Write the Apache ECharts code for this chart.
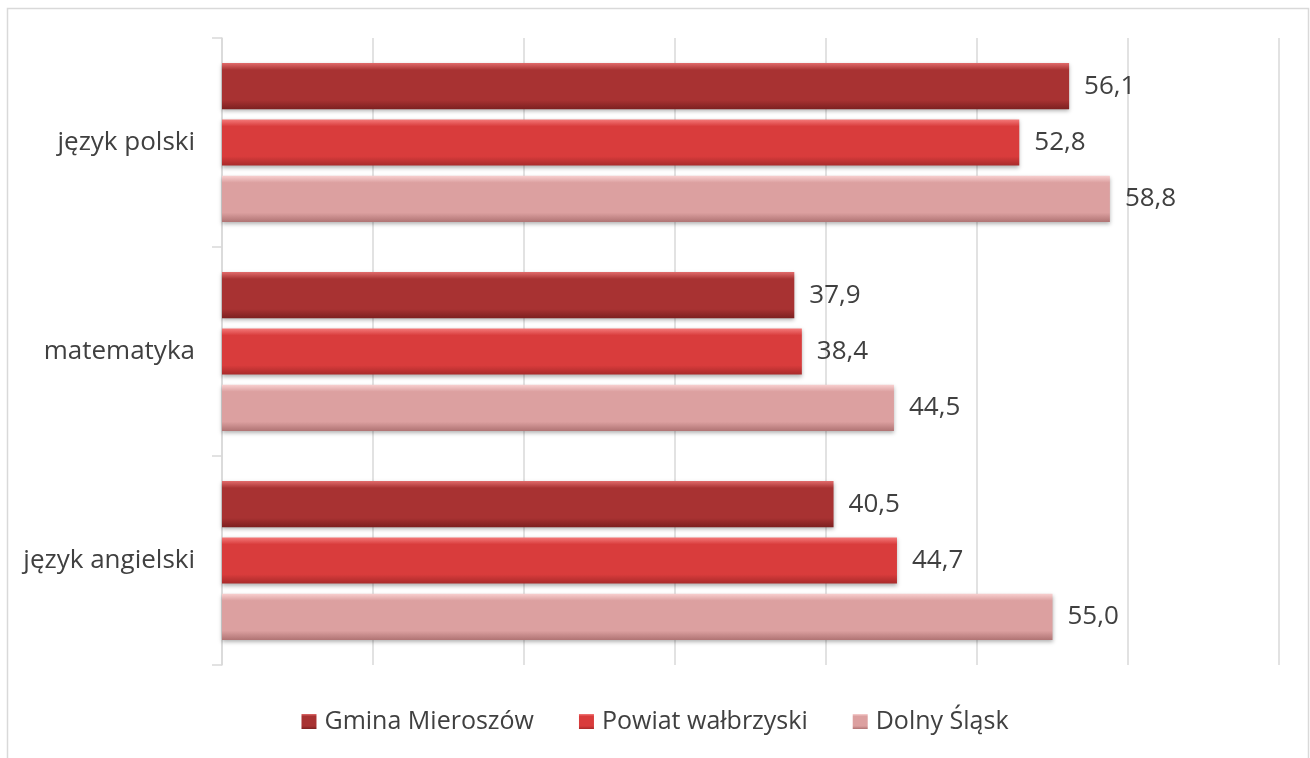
<!DOCTYPE html>
<html>
<head>
<meta charset="utf-8">
<script src="https://cdn.jsdelivr.net/npm/echarts@6/dist/echarts.min.js"></script>
<style>
  html, body { margin: 0; padding: 0; background: #fff; }
  #chart { width: 1310px; height: 758px; }
</style>
</head>
<body>
<div id="chart"></div>
<script>
// categories top to bottom
const categories = ['język polski', 'matematyka', 'język angielski'];
const seriesNames = ['Gmina Mieroszów', 'Powiat wałbrzyski', 'Dolny Śląsk'];
const gminaValues = [56.1, 37.9, 40.5];
const powiatValues = [52.8, 38.4, 44.7];
const dolnyValues = [58.8, 44.5, 55.0];

// bevel-ish gradient: [top highlight, body, bottom shade]
const palettes = [
    ['#e06a6a', '#a83232', '#7c2020'],
    ['#f47a7a', '#d93c3c', '#a82a2a'],
    ['#f8d0d0', '#dca0a0', '#b07474']
];

function bevel(p) {
    return new echarts.graphic.LinearGradient(0, 0, 0, 1, [
        { offset: 0, color: p[0] },
        { offset: 0.15, color: p[1] },
        { offset: 0.8, color: p[1] },
        { offset: 1, color: p[2] }
    ]);
}

const chart = echarts.init(document.getElementById('chart'));
const fontFamily = '"Open Sans", Lato, sans-serif';

function makeSeries(name, data, idx) {
    return {
        name: name,
        type: 'bar',
        data: data,
        barGap: '22%',
        barCategoryGap: '24%',
        itemStyle: {
            color: bevel(palettes[idx]),
            shadowColor: 'rgba(0,0,0,0.3)',
            shadowBlur: 4,
            shadowOffsetY: 2
        },
        label: {
            show: true,
            position: 'right',
            distance: 15,
            fontFamily: fontFamily,
            fontSize: 26,
            color: '#404040',
            formatter: p => p.value.toFixed(1).replace('.', ',')
        }
    };
}

chart.setOption({
    backgroundColor: '#fff',
    animation: false,
    graphic: [{
        type: 'rect',
        shape: { x: 7.5, y: 8.5, width: 1301, height: 770 },
        style: { fill: 'none', stroke: '#d9d9d9', lineWidth: 1.5 },
        silent: true,
        z: -1
    }],
    grid: { left: 222, right: 31, top: 38, bottom: 93 },
    legend: {
        bottom: 19,
        left: 'center',
        itemWidth: 15,
        itemHeight: 15,
        itemGap: 45,
        icon: 'rect',
        textStyle: { fontFamily: fontFamily, fontSize: 25, color: '#404040', padding: [0, 0, 0, 3] },
        data: seriesNames
    },
    xAxis: {
        type: 'value',
        min: 0,
        max: 70,
        interval: 10,
        axisLabel: { show: false },
        axisLine: { show: false },
        axisTick: { show: false },
        splitLine: { lineStyle: { color: '#d9d9d9', width: 1.5 } }
    },
    yAxis: {
        type: 'category',
        data: categories,
        inverse: true,
        axisLine: { lineStyle: { color: '#d9d9d9', width: 1.5 } },
        axisTick: { show: true, length: 10, lineStyle: { color: '#d9d9d9', width: 1.5 } },
        axisLabel: { margin: 27, fontFamily: fontFamily, fontSize: 26, color: '#404040' }
    },
    series: [
        makeSeries(seriesNames[0], gminaValues, 0),
        makeSeries(seriesNames[1], powiatValues, 1),
        makeSeries(seriesNames[2], dolnyValues, 2)
    ]
});
</script>
</body>
</html>
